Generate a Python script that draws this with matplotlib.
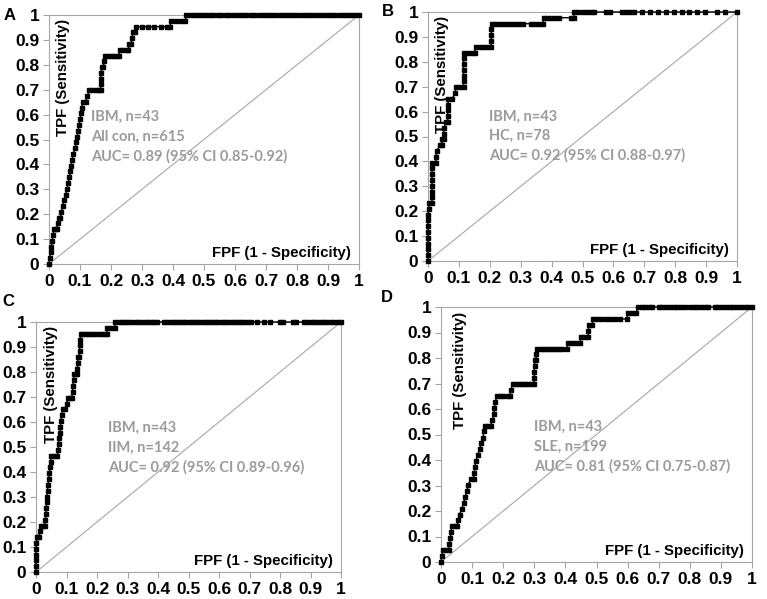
import matplotlib
matplotlib.use("Agg")
import matplotlib.pyplot as plt

# -----------------------------
# Data
# -----------------------------
A_FPF = [0.000, 0.002, 0.005, 0.008, 0.010, 0.013, 0.015, 0.021, 0.026, 0.028, 0.031, 0.037,
         0.040, 0.044, 0.049, 0.054, 0.058, 0.062, 0.066, 0.069, 0.071, 0.075, 0.078, 0.084,
         0.088, 0.091, 0.094, 0.097, 0.100, 0.103, 0.106, 0.109, 0.118, 0.124, 0.130, 0.140,
         0.150, 0.160, 0.167, 0.167, 0.167, 0.168, 0.170, 0.175, 0.178, 0.180, 0.190, 0.200,
         0.210, 0.220, 0.226, 0.228, 0.240, 0.250, 0.256, 0.258, 0.266, 0.268, 0.270, 0.276,
         0.282, 0.300, 0.320, 0.340, 0.360, 0.380, 0.391, 0.393, 0.410, 0.425, 0.440, 0.442,
         0.455, 0.468, 0.480, 0.494, 0.505, 0.518, 0.530, 0.545, 0.556, 0.570, 0.581, 0.596,
         0.610, 0.622, 0.636, 0.650, 0.662, 0.677, 0.690, 0.702, 0.716, 0.730, 0.745, 0.757,
         0.770, 0.784, 0.798, 0.812, 0.825, 0.838, 0.852, 0.866, 0.880, 0.893, 0.907, 0.920,
         0.934, 0.947, 0.960, 0.974, 0.987, 1.000]
A_TPF = [0.000, 0.023, 0.047, 0.070, 0.093, 0.116, 0.140, 0.140, 0.140, 0.163, 0.186, 0.186,
         0.209, 0.233, 0.256, 0.279, 0.302, 0.326, 0.349, 0.372, 0.395, 0.419, 0.442, 0.465,
         0.488, 0.512, 0.535, 0.558, 0.581, 0.605, 0.628, 0.651, 0.651, 0.674, 0.698, 0.698,
         0.698, 0.698, 0.698, 0.721, 0.744, 0.767, 0.791, 0.791, 0.814, 0.837, 0.837, 0.837,
         0.837, 0.837, 0.837, 0.860, 0.860, 0.860, 0.860, 0.884, 0.884, 0.907, 0.930, 0.930,
         0.953, 0.953, 0.953, 0.953, 0.953, 0.953, 0.953, 0.977, 0.977, 0.977, 0.977, 1.000,
         1.000, 1.000, 1.000, 1.000, 1.000, 1.000, 1.000, 1.000, 1.000, 1.000, 1.000, 1.000,
         1.000, 1.000, 1.000, 1.000, 1.000, 1.000, 1.000, 1.000, 1.000, 1.000, 1.000, 1.000,
         1.000, 1.000, 1.000, 1.000, 1.000, 1.000, 1.000, 1.000, 1.000, 1.000, 1.000, 1.000,
         1.000, 1.000, 1.000, 1.000, 1.000, 1.000]

B_FPF = [0.000, 0.000, 0.000, 0.000, 0.000, 0.000, 0.000, 0.000, 0.000, 0.003, 0.004, 0.013,
         0.013, 0.013, 0.013, 0.013, 0.013, 0.013, 0.014, 0.026, 0.026, 0.028, 0.038, 0.044,
         0.046, 0.051, 0.051, 0.052, 0.058, 0.064, 0.064, 0.064, 0.065, 0.066, 0.077, 0.088,
         0.090, 0.103, 0.115, 0.115, 0.115, 0.115, 0.115, 0.115, 0.116, 0.128, 0.141, 0.152,
         0.154, 0.167, 0.179, 0.192, 0.204, 0.205, 0.205, 0.205, 0.206, 0.218, 0.231, 0.244,
         0.256, 0.269, 0.282, 0.295, 0.308, 0.333, 0.346, 0.359, 0.372, 0.374, 0.385, 0.397,
         0.410, 0.423, 0.462, 0.472, 0.474, 0.487, 0.500, 0.513, 0.526, 0.538, 0.577, 0.590,
         0.628, 0.641, 0.654, 0.667, 0.692, 0.718, 0.744, 0.769, 0.795, 0.821, 0.846, 0.872,
         0.897, 0.936, 0.962, 1.000]
B_TPF = [0.000, 0.023, 0.047, 0.070, 0.093, 0.116, 0.140, 0.163, 0.186, 0.209, 0.233, 0.233,
         0.256, 0.279, 0.302, 0.326, 0.349, 0.372, 0.395, 0.395, 0.419, 0.442, 0.465, 0.465,
         0.488, 0.488, 0.512, 0.535, 0.558, 0.558, 0.581, 0.605, 0.628, 0.651, 0.651, 0.674,
         0.698, 0.698, 0.698, 0.721, 0.744, 0.767, 0.791, 0.814, 0.837, 0.837, 0.837, 0.837,
         0.860, 0.860, 0.860, 0.860, 0.860, 0.884, 0.907, 0.930, 0.953, 0.953, 0.953, 0.953,
         0.953, 0.953, 0.953, 0.953, 0.953, 0.953, 0.953, 0.953, 0.953, 0.977, 0.977, 0.977,
         0.977, 0.977, 0.977, 0.977, 1.000, 1.000, 1.000, 1.000, 1.000, 1.000, 1.000, 1.000,
         1.000, 1.000, 1.000, 1.000, 1.000, 1.000, 1.000, 1.000, 1.000, 1.000, 1.000, 1.000,
         1.000, 1.000, 1.000, 1.000]

C_FPF = [0.000, 0.000, 0.000, 0.000, 0.000, 0.001, 0.002, 0.008, 0.011, 0.013, 0.016, 0.024,
         0.029, 0.031, 0.032, 0.034, 0.035, 0.036, 0.038, 0.039, 0.042, 0.044, 0.046, 0.048,
         0.050, 0.060, 0.070, 0.072, 0.074, 0.076, 0.078, 0.080, 0.082, 0.084, 0.087, 0.095,
         0.100, 0.106, 0.113, 0.118, 0.120, 0.121, 0.123, 0.124, 0.130, 0.134, 0.136, 0.137,
         0.138, 0.142, 0.143, 0.144, 0.145, 0.146, 0.155, 0.165, 0.175, 0.185, 0.195, 0.205,
         0.215, 0.225, 0.232, 0.234, 0.245, 0.258, 0.260, 0.272, 0.282, 0.292, 0.303, 0.313,
         0.324, 0.334, 0.345, 0.356, 0.366, 0.377, 0.387, 0.398, 0.420, 0.430, 0.441, 0.451,
         0.462, 0.472, 0.483, 0.493, 0.504, 0.514, 0.525, 0.535, 0.546, 0.556, 0.567, 0.577,
         0.588, 0.598, 0.609, 0.620, 0.630, 0.641, 0.651, 0.662, 0.673, 0.683, 0.694, 0.704,
         0.725, 0.746, 0.768, 0.800, 0.810, 0.842, 0.852, 0.880, 0.890, 0.901, 0.912, 0.922,
         0.933, 0.944, 0.955, 0.966, 0.978, 0.989, 1.000]
C_TPF = [0.000, 0.023, 0.047, 0.070, 0.093, 0.116, 0.140, 0.140, 0.140, 0.163, 0.186, 0.186,
         0.186, 0.209, 0.233, 0.256, 0.279, 0.302, 0.326, 0.349, 0.372, 0.395, 0.419, 0.442,
         0.465, 0.465, 0.465, 0.488, 0.512, 0.535, 0.558, 0.581, 0.605, 0.628, 0.651, 0.651,
         0.674, 0.698, 0.698, 0.698, 0.721, 0.744, 0.767, 0.791, 0.791, 0.791, 0.814, 0.837,
         0.860, 0.860, 0.884, 0.907, 0.930, 0.953, 0.953, 0.953, 0.953, 0.953, 0.953, 0.953,
         0.953, 0.953, 0.953, 0.977, 0.977, 0.977, 1.000, 1.000, 1.000, 1.000, 1.000, 1.000,
         1.000, 1.000, 1.000, 1.000, 1.000, 1.000, 1.000, 1.000, 1.000, 1.000, 1.000, 1.000,
         1.000, 1.000, 1.000, 1.000, 1.000, 1.000, 1.000, 1.000, 1.000, 1.000, 1.000, 1.000,
         1.000, 1.000, 1.000, 1.000, 1.000, 1.000, 1.000, 1.000, 1.000, 1.000, 1.000, 1.000,
         1.000, 1.000, 1.000, 1.000, 1.000, 1.000, 1.000, 1.000, 1.000, 1.000, 1.000, 1.000,
         1.000, 1.000, 1.000, 1.000, 1.000, 1.000, 1.000]

D_FPF = [0.000, 0.003, 0.006, 0.015, 0.025, 0.027, 0.030, 0.032, 0.035, 0.045, 0.052, 0.055,
         0.060, 0.067, 0.073, 0.078, 0.083, 0.088, 0.095, 0.105, 0.107, 0.109, 0.112, 0.118,
         0.124, 0.130, 0.135, 0.138, 0.142, 0.150, 0.160, 0.165, 0.170, 0.172, 0.175, 0.180,
         0.190, 0.200, 0.215, 0.222, 0.225, 0.230, 0.240, 0.250, 0.260, 0.270, 0.280, 0.290,
         0.299, 0.300, 0.300, 0.301, 0.302, 0.305, 0.307, 0.310, 0.320, 0.330, 0.340, 0.350,
         0.360, 0.370, 0.380, 0.390, 0.405, 0.408, 0.420, 0.435, 0.447, 0.449, 0.460, 0.472,
         0.474, 0.475, 0.485, 0.490, 0.500, 0.515, 0.530, 0.545, 0.560, 0.575, 0.598, 0.600,
         0.615, 0.628, 0.632, 0.645, 0.656, 0.668, 0.680, 0.700, 0.712, 0.724, 0.736, 0.748,
         0.760, 0.772, 0.784, 0.800, 0.812, 0.824, 0.836, 0.848, 0.860, 0.880, 0.892, 0.904,
         0.916, 0.928, 0.940, 0.952, 0.964, 0.976, 0.988, 1.000]
D_TPF = [0.000, 0.023, 0.047, 0.047, 0.047, 0.070, 0.093, 0.116, 0.140, 0.140, 0.140, 0.163,
         0.186, 0.209, 0.233, 0.256, 0.279, 0.302, 0.326, 0.326, 0.349, 0.372, 0.395, 0.419,
         0.442, 0.465, 0.488, 0.512, 0.535, 0.535, 0.535, 0.558, 0.581, 0.605, 0.628, 0.651,
         0.651, 0.651, 0.651, 0.651, 0.674, 0.698, 0.698, 0.698, 0.698, 0.698, 0.698, 0.698,
         0.698, 0.721, 0.744, 0.767, 0.791, 0.791, 0.814, 0.837, 0.837, 0.837, 0.837, 0.837,
         0.837, 0.837, 0.837, 0.837, 0.837, 0.860, 0.860, 0.860, 0.860, 0.884, 0.884, 0.884,
         0.907, 0.930, 0.930, 0.953, 0.953, 0.953, 0.953, 0.953, 0.953, 0.953, 0.953, 0.977,
         0.977, 0.977, 1.000, 1.000, 1.000, 1.000, 1.000, 1.000, 1.000, 1.000, 1.000, 1.000,
         1.000, 1.000, 1.000, 1.000, 1.000, 1.000, 1.000, 1.000, 1.000, 1.000, 1.000, 1.000,
         1.000, 1.000, 1.000, 1.000, 1.000, 1.000, 1.000, 1.000]

PANEL_LETTERS = ["A", "B", "C", "D"]
CONTROL_LABELS = ["All con, n=615", "HC, n=78", "IIM, n=142", "SLE, n=199"]
AUC_LABELS = ["AUC= 0.89 (95% CI 0.85-0.92)", "AUC= 0.92 (95% CI 0.88-0.97)",
              "AUC= 0.92 (95% CI 0.89-0.96)", "AUC= 0.81 (95% CI 0.75-0.87)"]
CASE_LABEL = "IBM, n=43"
TICKS = [0, 0.1, 0.2, 0.3, 0.4, 0.5, 0.6, 0.7, 0.8, 0.9, 1]
TICK_LABELS = ["0", "0.1", "0.2", "0.3", "0.4", "0.5", "0.6", "0.7", "0.8", "0.9", "1"]

# -----------------------------
# Layout (figure fractions, from the reference)
# -----------------------------
W, H = 767, 599
AX_RECTS = [
    [49 / W, 1 - 264 / H, 310 / W, 249 / H],
    [428 / W, 1 - 261 / H, 309 / W, 249 / H],
    [36 / W, 1 - 572 / H, 305 / W, 250 / H],
    [441 / W, 1 - 562 / H, 311 / W, 255 / H],
]
LETTER_POS = [(10, 15), (388, 12), (8, 302), (387, 298)]
TEXT_X = [0.135, 0.197, 0.236, 0.30]
TEXT_Y = [0.59, 0.58, 0.576, 0.53]
YLABEL_X = [0.045, 0.045, 0.048, 0.06]
GREY = "#a6a6a6"
TEXT_GREY = "#9b9b9b"


def main():
    plt.rcParams["font.family"] = ["Liberation Sans", "DejaVu Sans"]
    fig = plt.figure(figsize=(W / 100, H / 100), dpi=100)

    curves = [(A_FPF, A_TPF), (B_FPF, B_TPF), (C_FPF, C_TPF), (D_FPF, D_TPF)]

    for i, (fpf, tpf) in enumerate(curves):
        ax = fig.add_axes(AX_RECTS[i])
        ax.set_xlim(0, 1)
        ax.set_ylim(0, 1)

        # chance line
        ax.plot([0, 1], [0, 1], color=GREY, lw=0.8)
        # ROC curve
        ax.plot(fpf, tpf, color="black", lw=1.0, marker="s", ms=2.2,
                clip_on=False, zorder=3)

        for s in ax.spines.values():
            s.set_color(GREY)
            s.set_linewidth(0.8)

        ax.set_xticks(TICKS)
        ax.set_xticklabels(TICK_LABELS)
        ax.set_yticks(TICKS)
        ax.set_yticklabels(TICK_LABELS)
        ax.tick_params(direction="out", length=4, width=0.8, color=GREY,
                       labelsize=12.5, pad=3)
        for lab in ax.get_xticklabels() + ax.get_yticklabels():
            lab.set_fontweight("bold")

        ax.text(YLABEL_X[i], 0.75, "TPF (Sensitivity)", rotation=90,
                ha="center", va="center", fontsize=10.8, fontweight="bold",
                transform=ax.transAxes)
        ax.text(0.975, 0.045, "FPF (1 - Specificity)", ha="right", va="center",
                fontsize=10.8, fontweight="bold", transform=ax.transAxes)

        for j, txt in enumerate([CASE_LABEL, CONTROL_LABELS[i], AUC_LABELS[i]]):
            ax.text(TEXT_X[i], TEXT_Y[i] - j * 0.078, txt, ha="left", va="center",
                    fontsize=10.5, fontweight="bold", family=["Lato", "DejaVu Sans"],
                    color=TEXT_GREY, transform=ax.transAxes)

        lx, ly = LETTER_POS[i]
        fig.text(lx / W, 1 - ly / H, PANEL_LETTERS[i], ha="center", va="center",
                 fontsize=12, fontweight="bold")

    fig.savefig("out.png", dpi=100)
    plt.close(fig)


if __name__ == "__main__":
    main()
